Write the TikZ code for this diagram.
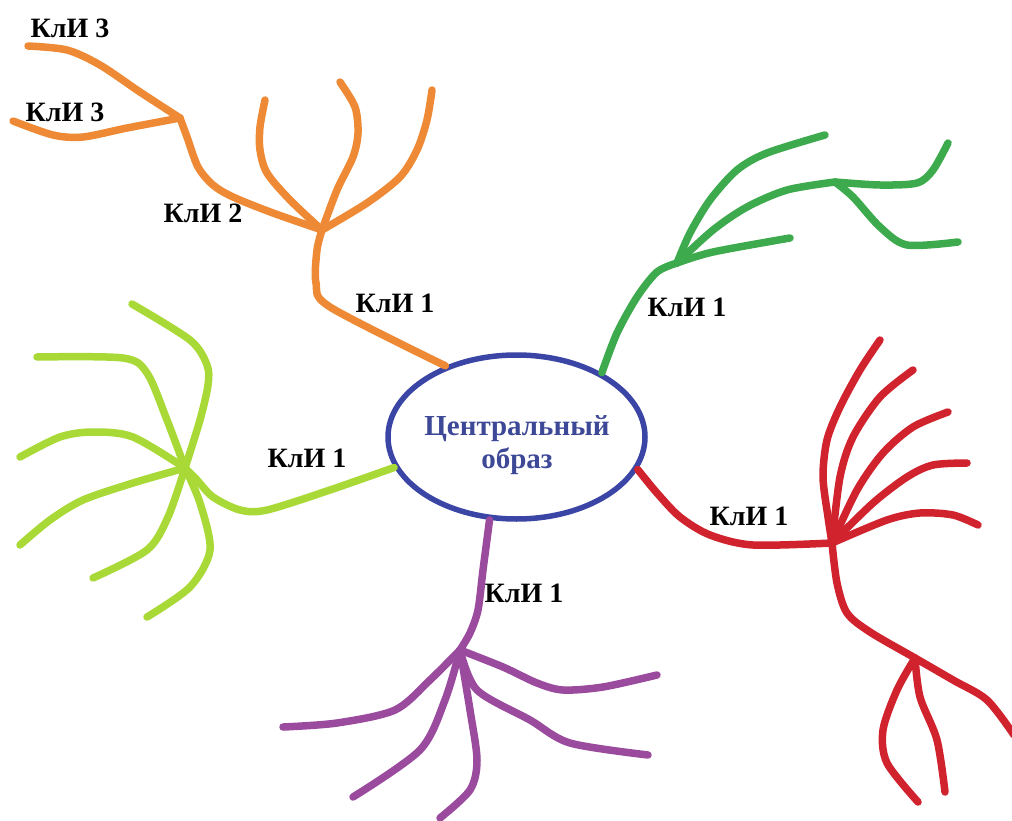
\documentclass[tikz,border=0pt]{standalone}
\usepackage{fontspec}
\setmainfont{Liberation Serif}
\usetikzlibrary{shapes.geometric}
\definecolor{corange}{RGB}{238,138,53}
\definecolor{cgreen}{RGB}{61,170,77}
\definecolor{clime}{RGB}{169,217,54}
\definecolor{cred}{RGB}{208,35,45}
\definecolor{cpurple}{RGB}{154,75,158}
\definecolor{cblue}{RGB}{58,69,165}
\definecolor{ctext}{RGB}{61,72,150}
\begin{document}
\begin{tikzpicture}[x=1pt,y=-1pt,
  br/.style={line width=7.5pt, line cap=round, line join=round},
  lbl/.style={font=\bfseries\fontsize{28}{32}\selectfont, inner sep=0pt, text=black},
]
\useasboundingbox (0,0) rectangle (1012,821);
% central image
\node[draw=cblue, line width=5.5pt, ellipse, minimum width=257pt, minimum height=164pt, inner sep=0pt] (c) at (516.5,437) {};
\node[font=\bfseries\fontsize{29}{33}\selectfont, text=ctext, align=center] (ct) at (517,445) {Центральный\\образ};
% hubs
\coordinate (o1) at (322,230);
\coordinate (o2) at (180,118);
\coordinate (g1) at (677,263);
\coordinate (g2) at (835,182);
\coordinate (l1) at (185,468);
\coordinate (r1) at (832,543);
\coordinate (r2) at (915,658);
\coordinate (p1) at (460,650);
% orange
\draw[br,corange] plot[smooth] coordinates {(c.135) (330,307) (316,283) (317,250) (o1)};
\draw[br,corange] plot[smooth] coordinates {(o1) (273,213) (233,197) (213,185) (198,167) (187,137) (o2)};
\draw[br,corange] plot[smooth] coordinates {(o1) (290,200) (267,173) (260,150) (260,127) (265,100)};
\draw[br,corange] plot[smooth] coordinates {(o1) (337,190) (353,157) (358,133) (355,107) (340,82)};
\draw[br,corange] plot[smooth] coordinates {(o1) (367,203) (400,177) (417,150) (427,120) (432,90)};
\draw[br,corange] plot[smooth] coordinates {(o2) (140,92) (100,65) (67,50) (28,46)};
\draw[br,corange] plot[smooth] coordinates {(o2) (127,128) (83,137) (53,135) (13,121)};
% green
\draw[br,cgreen] plot[smooth] coordinates {(c.37) (617,333) (637,297) (657,272) (g1)};
\draw[br,cgreen] plot[smooth] coordinates {(g1) (690,233) (710,200) (737,170) (767,153) (825,135)};
\draw[br,cgreen] plot[smooth] coordinates {(g1) (713,230) (747,207) (787,190) (g2)};
\draw[br,cgreen] plot[smooth] coordinates {(g2) (880,185) (917,183) (933,170) (948,143)};
\draw[br,cgreen] plot[smooth] coordinates {(g2) (853,197) (880,227) (907,245) (958,242)};
\draw[br,cgreen] plot[smooth] coordinates {(g1) (713,252) (790,238)};
% lime
\draw[br,clime] plot[smooth] coordinates {(c.194) (330,490) (267,510) (240,510) (213,497) (197,480) (l1)};
\draw[br,clime] plot[smooth] coordinates {(l1) (200,420) (208,385) (207,365) (190,340) (132,304)};
\draw[br,clime] plot[smooth] coordinates {(l1) (167,420) (147,373) (123,358) (37,357)};
\draw[br,clime] plot[smooth] coordinates {(l1) (133,437) (93,432) (60,437) (20,457)};
\draw[br,clime] plot[smooth] coordinates {(l1) (133,483) (83,500) (50,520) (20,545)};
\draw[br,clime] plot[smooth] coordinates {(l1) (168,517) (147,550) (93,578)};
\draw[br,clime] plot[smooth] coordinates {(l1) (200,503) (210,550) (190,587) (147,617)};
% red
\draw[br,cred] plot[smooth] coordinates {(c.345) (657,493) (680,517) (710,535) (753,545) (r1)};
\draw[br,cred] plot[smooth] coordinates {(r1) (828,517) (823,477) (827,440) (840,407) (860,370) (880,340)};
\draw[br,cred] plot[smooth] coordinates {(r1) (840,477) (853,437) (880,397) (913,370)};
\draw[br,cred] plot[smooth] coordinates {(r1) (857,490) (883,453) (913,427) (948,412)};
\draw[br,cred] plot[smooth] coordinates {(r1) (873,503) (907,477) (933,465) (967,463)};
\draw[br,cred] plot[smooth] coordinates {(r1) (887,520) (920,513) (953,515) (978,525)};
\draw[br,cred] plot[smooth] coordinates {(r1) (837,583) (847,613) (870,632) (r2) (953,680) (987,700) (1014,735)};
\draw[br,cred] plot[smooth] coordinates {(r2) (897,690) (883,730) (887,763) (918,802)};
\draw[br,cred] plot[smooth] coordinates {(r2) (920,697) (937,740) (945,792)};
% purple
\draw[br,cpurple] plot[smooth] coordinates {(c.252) (483,570) (478,610) (470,633) (p1)};
\draw[br,cpurple] plot[smooth] coordinates {(p1) (430,680) (395,710) (337,723) (283,727)};
\draw[br,cpurple] plot[smooth] coordinates {(p1) (445,700) (420,750) (353,797)};
\draw[br,cpurple] plot[smooth] coordinates {(p1) (470,710) (477,760) (470,790) (440,818)};
\draw[br,cpurple] plot[smooth] coordinates {(p1) (503,667) (537,683) (563,690) (603,687) (657,675)};
\draw[br,cpurple] plot[smooth] coordinates {(p1) (477,690) (530,720) (570,743) (648,755)};
% labels
\node[lbl] (k3a) at (70,28) {КлИ 3};
\node[lbl] (k3b) at (65,112) {КлИ 3};
\node[lbl] (k2) at (203,213) {КлИ 2};
\node[lbl] (k1o) at (395,303) {КлИ 1};
\node[lbl] (k1g) at (687,307) {КлИ 1};
\node[lbl] (k1l) at (307,458) {КлИ 1};
\node[lbl] (k1r) at (749,516) {КлИ 1};
\node[lbl] (k1p) at (524,593) {КлИ 1};
\end{tikzpicture}
\end{document}
